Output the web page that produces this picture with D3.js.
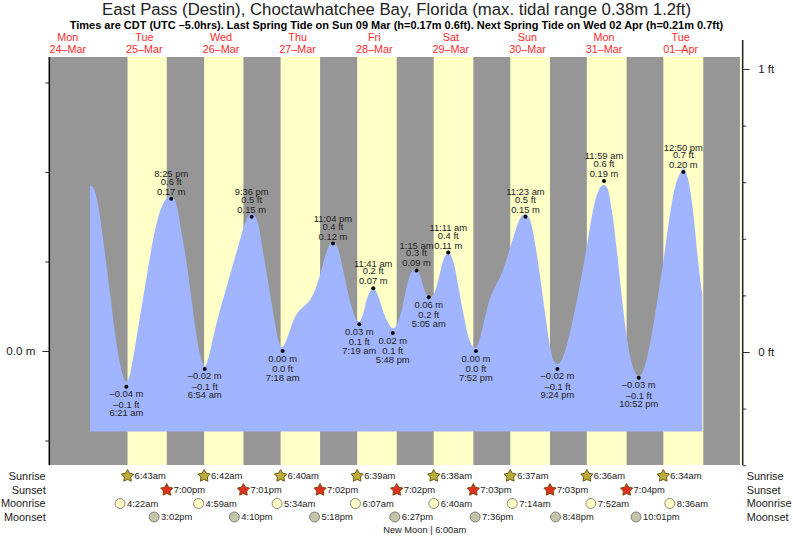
<!DOCTYPE html>
<html>
<head>
<meta charset="utf-8">
<script src="https://cdn.jsdelivr.net/npm/d3@7"></script>
<style>
html, body { margin: 0; padding: 0; background: #fff; }
svg { display: block; }
text { font-family: "Liberation Sans", sans-serif; fill: #222; }
</style>
</head>
<body>
<div id="chart"></div>
<script>
// day 0 is Mon 24-Mar, hours are counted from midnight of that day
const dayNames = ["Mon", "Tue", "Wed", "Thu", "Fri", "Sat", "Sun", "Mon", "Tue"];
const dayDates = ["24–Mar", "25–Mar", "26–Mar", "27–Mar", "28–Mar", "29–Mar", "30–Mar", "31–Mar", "01–Apr"];

const sunrise = ["6:43am", "6:42am", "6:40am", "6:39am", "6:38am", "6:37am", "6:36am", "6:34am"];
const sunset = ["7:00pm", "7:01pm", "7:02pm", "7:02pm", "7:03pm", "7:03pm", "7:04pm"];
const moonrise = ["4:22am", "4:59am", "5:34am", "6:07am", "6:40am", "7:14am", "7:52am", "8:36am"];
const moonset = ["3:02pm", "4:10pm", "5:18pm", "6:27pm", "7:36pm", "8:48pm", "10:01pm"];
// not labelled in the picture, only seen as the edge of the shading
const lastSunset = "7:05pm";
const nextSunrise = "6:33am";

const tideDay = [1, 1, 2, 2, 3, 3, 4, 4, 4, 5, 5, 5, 5, 6, 6, 7, 7, 8];
const tideTime = ["6:21 am", "8:25 pm", "6:54 am", "9:36 pm", "7:18 am", "11:04 pm", "7:19 am", "11:41 am", "5:48 pm",
    "1:15 am", "5:05 am", "11:11 am", "7:52 pm", "11:23 am", "9:24 pm", "11:59 am", "10:52 pm", "12:50 pm"];
const tideM = [-0.04, 0.17, -0.02, 0.15, 0.00, 0.12, 0.03, 0.07, 0.02, 0.09, 0.06, 0.11, 0.00, 0.15, -0.02, 0.19, -0.03, 0.20];
const tideFt = [-0.1, 0.6, -0.1, 0.5, 0.0, 0.4, 0.1, 0.2, 0.1, 0.3, 0.2, 0.4, 0.0, 0.5, -0.1, 0.6, -0.1, 0.7];
const tideHigh = [0, 1, 0, 1, 0, 1, 0, 1, 0, 1, 0, 1, 0, 1, 0, 1, 0, 1];

// tide curve
const curveHour = [18.95, 19.79, 20.83, 22.09, 23.65, 25.22, 26.79, 28.35, 29.40, 30.34, 31.28, 32.53, 34.09, 35.66, 37.23, 38.79,
    40.36, 41.93, 43.18, 44.23, 45.27, 46.31, 47.67, 49.24, 50.80, 52.37, 53.62, 54.98, 56.02, 57.59, 59.68, 61.77, 63.86, 65.95,
    67.52, 68.56, 69.60, 70.65, 71.69, 73.26, 74.82, 76.39, 77.95, 79.00, 80.04, 81.61, 83.18, 84.22, 85.79, 87.88, 89.44, 91.01,
    92.58, 93.93, 94.98, 96.23, 97.80, 99.37, 100.93, 102.50, 103.33, 104.38, 105.63, 106.67, 107.71, 109.29, 110.85, 112.42,
    113.78, 115.03, 116.60, 118.16, 119.73, 121.09, 122.34, 123.91, 125.27, 126.52, 128.09, 129.66, 131.22, 132.79, 134.36,
    135.92, 137.49, 139.06, 139.79, 140.94, 142.72, 144.29, 145.86, 147.95, 150.03, 152.12, 153.69, 155.26, 156.82, 158.39,
    159.96, 161.52, 163.09, 164.13, 165.39, 166.75, 168.32, 170.41, 172.50, 174.58, 176.15, 177.72, 178.97, 180.02, 181.06,
    182.42, 183.99, 185.56, 187.12, 188.69, 190.26, 190.99, 192.35, 194.44, 196.53, 198.62, 200.70, 202.27, 203.84, 204.82,
    206.40, 207.97, 209.54, 210.79];
const curveM = [.1847, .1836, .1743, .1501, .1091, .0644, .0197, -.0138, -.0287, -.0343, -.0287, -.0063, .0272, .0607, .0942, .1259,
    .1501, .1650, .1717, .1732, .1706, .1594, .1315, .0980, .0570, .0160, -.0063, -.0168, -.0082, .0160, .0458, .0719, .0980, .1240,
    .1426, .1508, .1538, .1508, .1408, .1091, .0756, .0421, .0123, .0041, .0086, .0235, .0384, .0439, .0495, .0570, .0682, .0849,
    .1054, .1184, .1222, .1184, .0980, .0719, .0495, .0346, .0328, .0402, .0570, .0663, .0700, .0607, .0439, .0309,
    .0253, .0291, .0458, .0719, .0886, .0924, .0849, .0663, .0600, .0626, .0793, .1017, .1099, .0998, .0719,
    .0421, .0160, .0048, .0041, .0123, .0384, .0589, .0719, .0868, .1091, .1333, .1482, .1531, .1464, .1203,
    .0831, .0421, .0048, -.0101, -.0145, -.0101, .0067, .0384, .0756, .1166, .1501, .1743, .1836, .1855, .1818,
    .1575, .1128, .0607, .0160, -.0138, -.0268, -.0279, -.0212, .0086, .0533, .1017, .1538, .1836, .1985, .2041,
    .1911, .1538, .0980, .0626];
const curveFloor = -0.09;

const metreTicks = [0.3, 0.2, 0.1, 0, -0.1];
const feetTicks = [1, 0.8, 0.6, 0.4, 0.2, 0, -0.2, -0.4];

const width = 793, height = 539;
const plotLeft = 50, plotRight = 741, plotTop = 57, plotBottom = 465;

const x = d3.scaleLinear().domain([0, 240]).range([29.5, 795.58]);
const yM = d3.scaleLinear().domain([0, 0.3]).range([351, 82.5]);
const yFt = d3.scaleLinear().domain([-0.4, 1.1]).range([465.2, 40.7]);

function hours(day, clock) {
    const m = clock.match(/(\d+):(\d+)\s*(am|pm)/);
    return day * 24 + (+m[1] % 12) + (m[3] == "pm" ? 12 : 0) + m[2] / 60;
}
const dash = v => String(v).replace("-", "–");

const svg = d3.select("#chart").append("svg").attr("width", width).attr("height", height);

svg.append("text").attr("x", 396.5).attr("y", 15).attr("text-anchor", "middle").attr("font-size", 16.75)
    .text("East Pass (Destin), Choctawhatchee Bay, Florida (max. tidal range 0.38m 1.2ft)");
svg.append("text").attr("x", 396.5).attr("y", 29).attr("text-anchor", "middle").attr("font-size", 10.97)
    .attr("font-weight", "bold").style("fill", "#000")
    .text("Times are CDT (UTC –5.0hrs). Last Spring Tide on Sun 09 Mar (h=0.17m 0.6ft). Next Spring Tide on Wed 02 Apr (h=0.21m 0.7ft)");

dayNames.forEach((d, i) => {
    const g = svg.append("g").attr("text-anchor", "middle").attr("font-size", 10.8);
    g.append("text").attr("x", x(i * 24 + 12)).attr("y", 41).style("fill", "#ff2a2a").text(d);
    g.append("text").attr("x", x(i * 24 + 12)).attr("y", 53).style("fill", "#ff2a2a").text(dayDates[i]);
});

// night background, then a yellow band for each daylight span
svg.append("rect").attr("x", plotLeft).attr("y", plotTop)
    .attr("width", plotRight - plotLeft).attr("height", plotBottom - plotTop).attr("fill", "#969696");

const bands = sunrise.map((s, i) => [hours(i + 1, s), hours(i + 1, i < sunset.length ? sunset[i] : lastSunset)]);
bands.push([hours(9, nextSunrise), x.invert(plotRight)]);
svg.append("g").selectAll("rect").data(bands).join("rect")
    .attr("x", d => x(d[0])).attr("y", plotTop)
    .attr("width", d => x(d[1]) - x(d[0])).attr("height", plotBottom - plotTop)
    .attr("fill", "#ffffc8");

const area = d3.area()
    .x((d, i) => x(curveHour[i]))
    .y0(yM(curveFloor))
    .y1(d => yM(d))
    .curve(d3.curveMonotoneX);
svg.append("path").datum(curveM).attr("d", area).attr("fill", "#a0b4ff");

// axes
const leftAxis = d3.axisLeft(yM).tickValues(metreTicks).tickSize(4).tickFormat(d => d === 0 ? "0.0 m" : "");
const gl = svg.append("g").attr("transform", "translate(49.3,0)").call(leftAxis);
const rightAxis = d3.axisRight(yFt).tickValues(feetTicks).tickSize(3.5).tickFormat(d => (d === 1 || d === 0) ? d + " ft" : "");
const gr = svg.append("g").attr("transform", "translate(742.7,0)").call(rightAxis);

gl.select(".domain").attr("d", `M0,${plotTop}V${plotBottom}`).attr("stroke", "#000").attr("stroke-width", 1.5);
gr.select(".domain").attr("d", `M0,40V${plotBottom}`).attr("stroke", "#222").attr("stroke-width", 1.5);
gl.selectAll(".tick line").attr("stroke", "#333").attr("x2", d => d === 0 ? -7 : -4);
gr.selectAll(".tick line").attr("stroke", "#333").attr("x2", d => (d === 1 || d === 0) ? 7 : 3.5);
gl.selectAll(".tick text").attr("x", -14).attr("font-size", 11.6).attr("font-family", "Liberation Sans");
gr.selectAll(".tick text").attr("x", 15.5).attr("font-size", 11.6).attr("font-family", "Liberation Sans");

// high and low water marks with their labels
tideM.forEach((v, i) => {
    const px = x(hours(tideDay[i], tideTime[i])), py = yM(v);
    svg.append("circle").attr("cx", px).attr("cy", py).attr("r", 2).attr("fill", "#000");
    const lines = [dash(v.toFixed(2)) + " m", dash(tideFt[i].toFixed(1)) + " ft", tideTime[i]];
    const offs = tideHigh[i] ? [-4, -14, -21.5] : [10.5, 21, 29.5];
    lines.forEach((t, j) => {
        svg.append("text").attr("x", px).attr("y", py + offs[j]).attr("text-anchor", "middle")
            .attr("font-size", 9.4).text(t);
    });
});

// fat five pointed marker used for the sun rows
const starShape = d3.lineRadial().curve(d3.curveLinearClosed)
    .angle((d, i) => i * Math.PI / 5)
    .radius((d, i) => i % 2 ? 3.4 : 6.4)(d3.range(10));
const circleShape = d3.symbol(d3.symbolCircle).size(78)();

// sun and moon rows
const rows = [
    { name: "Sunrise", y: 476, times: sunrise, shape: starShape, fill: "#b9ad3c", stroke: "#6e5a14" },
    { name: "Sunset", y: 490, times: sunset, shape: starShape, fill: "#e0301e", stroke: "#7a4a14" },
    { name: "Moonrise", y: 503.5, times: moonrise, shape: circleShape, fill: "#ffffc8", stroke: "#8a8a78" },
    { name: "Moonset", y: 517, times: moonset, shape: circleShape, fill: "#c4c4aa", stroke: "#808078" }
];
rows.forEach(r => {
    svg.append("text").attr("x", 45.7).attr("y", r.y + 3.8).attr("text-anchor", "end").attr("font-size", 10.9).text(r.name);
    svg.append("text").attr("x", 746.7).attr("y", r.y + 3.8).attr("font-size", 10.9).text(r.name);
    const g = svg.append("g").selectAll("g").data(r.times).join("g")
        .attr("transform", (d, i) => `translate(${x(hours(i + 1, d))},${r.y})`);
    g.append("path").attr("d", r.shape).attr("fill", r.fill)
        .attr("stroke", r.stroke).attr("stroke-width", 1);
    g.append("text").attr("x", 7).attr("y", 3.4).attr("font-size", 9.4).text(d => d);
});

svg.append("text").attr("x", x(hours(5, "6:00am")) - 7).attr("y", 533).attr("text-anchor", "middle")
    .attr("font-size", 9.3).text("New Moon | 6:00am");
</script>
</body>
</html>
